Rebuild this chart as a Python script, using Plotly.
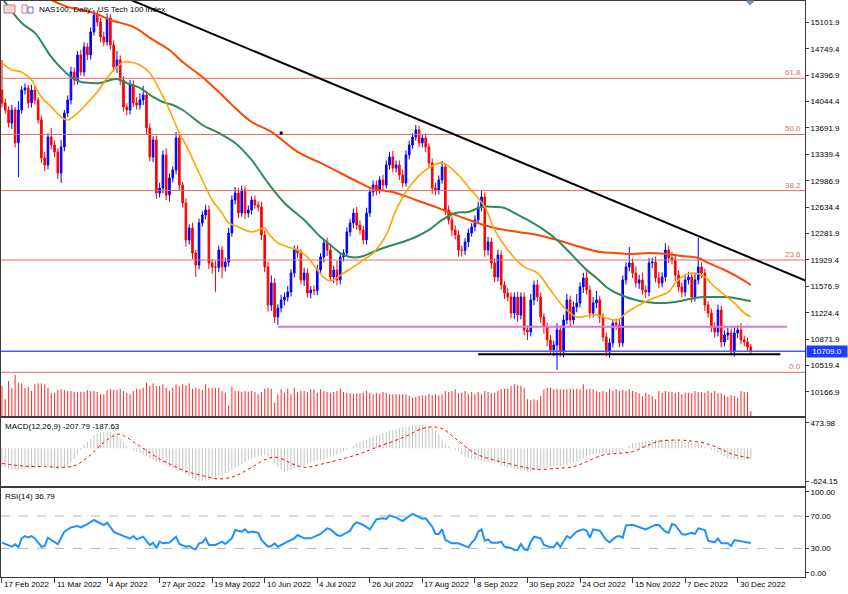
import plotly.graph_objects as go

# ---------------- data ----------------
tick_labels = ["17 Feb 2022", "11 Mar 2022", "4 Apr 2022", "27 Apr 2022", "19 May 2022",
               "10 Jun 2022", "4 Jul 2022", "26 Jul 2022", "17 Aug 2022", "8 Sep 2022",
               "30 Sep 2022", "24 Oct 2022", "15 Nov 2022", "7 Dec 2022", "30 Dec 2022"]
tick_bars = [0, 16, 32, 48, 64, 80, 96, 112, 128, 144, 160, 176, 192, 208, 224]

first_open = 14198
closes = [
    14025, 13931, 13758, 13931, 13491, 13931, 14198, 14225, 14025, 14198,
    14065, 13798, 13291, 13197, 13571, 13464, 13371, 13090, 13438, 13891,
    14065, 14439, 14332, 14666, 14439, 14773, 14666, 14973, 15200, 15106,
    14906, 14839, 15160, 14799, 14506, 14599, 14332, 13972, 13931, 14265,
    14025, 13998, 14065, 14132, 13691, 13304, 13531, 12823, 12890, 13331,
    12797, 13024, 13130, 13558, 12930, 12690, 12196, 12356, 12022, 11862,
    12423, 12530, 12596, 11889, 11836, 11830, 12062, 11836, 11902, 12289,
    12730, 12823, 12556, 12863, 12556, 12596, 12730, 12663, 12637, 12263,
    11836, 11328, 11622, 11168, 11288, 11395, 11435, 11502, 11755, 12062,
    12022, 11662, 11755, 11488, 11528, 11520, 11795, 11969, 12156, 12062,
    11702, 11795, 11662, 11969, 12022, 12303, 12423, 12556, 12396, 12329,
    12196, 12556, 12837, 12930, 12863, 12997, 12930, 13197, 13304, 13157,
    13197, 13064, 12957, 13331, 13464, 13571, 13664, 13491, 13558, 13438,
    13224, 12890, 12863, 12997, 13171, 12596, 12463, 12329, 12263, 12062,
    12055, 12169, 12289, 12370, 12463, 12637, 12770, 12062, 12169, 11889,
    11702, 11996, 11595, 11488, 11435, 11221, 11435, 11195, 11435, 10994,
    10968, 11395, 11595, 11435, 11168, 11035, 10861, 10727, 10794, 10994,
    10701, 11128, 11395, 11128, 11302, 11355, 11569, 11689, 11528, 11221,
    11355, 11395, 11168, 10901, 10701, 10821, 11088, 11061, 10821, 11662,
    11836, 11889, 11755, 11622, 11662, 11528, 11502, 11889, 11902, 11689,
    11622, 11702, 12062, 11956, 11929, 11729, 11569, 11502, 11662, 11702,
    11435, 11662, 11836, 11755, 11328, 11221, 11035, 10968, 11261, 10834,
    10928, 10954, 10701, 10954, 10994, 10861, 10834, 10768, 10709]

wick_up = [
    400, 60, 50, 70, 40, 120, 50, 60, 40, 70,
    50, 40, 60, 80, 50, 120, 60, 50, 90, 40,
    60, 70, 60, 50, 70, 60, 50, 60, 66, 60,
    50, 70, 60, 50, 60, 120, 60, 50, 50, 70,
    60, 80, 90, 120, 50, 60, 50, 60, 70, 60,
    90, 60, 50, 80, 60, 40, 60, 50, 70, 40,
    60, 50, 70, 60, 50, 80, 60, 50, 60, 70,
    60, 80, 70, 60, 50, 60, 50, 60, 50, 70,
    60, 70, 100, 60, 50, 70, 60, 80, 50, 60,
    60, 50, 70, 60, 50, 60, 70, 50, 60, 70,
    70, 60, 120, 60, 50, 60, 50, 60, 80, 60,
    60, 70, 60, 60, 60, 50, 70, 60, 70, 80,
    60, 60, 70, 60, 60, 50, 67, 60, 50, 60,
    50, 60, 70, 60, 80, 40, 60, 50, 60, 60,
    60, 50, 60, 50, 60, 70, 80, 60, 70, 60,
    60, 70, 60, 50, 70, 60, 60, 70, 60, 60,
    60, 80, 60, 70, 60, 50, 60, 70, 60, 90,
    60, 70, 80, 60, 70, 120, 60, 70, 90, 60,
    80, 120, 60, 50, 60, 60, 50, 60, 70, 60,
    60, 214, 60, 90, 70, 100, 60, 70, 60, 70,
    80, 60, 90, 60, 80, 70, 60, 60, 80, 70,
    60, 90, 387, 60, 60, 50, 60, 60, 70, 60,
    60, 70, 60, 90, 60, 90, 60, 60, 40]
wick_dn = [
    60, 50, 60, 80, 60, 455, 50, 60, 70, 60,
    60, 50, 70, 80, 60, 60, 70, 80, 133, 60,
    50, 60, 70, 60, 50, 60, 70, 60, 50, 60,
    70, 60, 50, 60, 60, 80, 70, 60, 70, 60,
    50, 60, 60, 70, 80, 60, 70, 80, 60, 70,
    70, 90, 60, 60, 80, 60, 90, 60, 80, 160,
    60, 50, 60, 80, 90, 330, 60, 150, 60, 60,
    50, 60, 70, 50, 80, 60, 60, 50, 60, 70,
    70, 90, 80, 80, 107, 60, 70, 60, 60, 60,
    70, 60, 80, 60, 70, 60, 60, 50, 70, 80,
    60, 80, 70, 60, 60, 50, 60, 70, 60, 60,
    60, 60, 50, 60, 70, 50, 60, 50, 60, 60,
    60, 70, 60, 50, 60, 50, 50, 60, 60, 70,
    60, 80, 70, 60, 50, 70, 60, 80, 60, 90,
    80, 60, 70, 50, 60, 50, 60, 90, 70, 80,
    70, 60, 70, 80, 60, 70, 80, 90, 60, 70,
    107, 60, 70, 60, 80, 90, 80, 60, 80, 334,
    60, 70, 60, 80, 60, 70, 60, 80, 60, 70,
    60, 70, 80, 60, 60, 80, 60, 70, 60, 50,
    60, 60, 70, 60, 80, 60, 80, 60, 70, 60,
    70, 60, 60, 70, 60, 80, 60, 70, 60, 60,
    70, 60, 60, 70, 80, 60, 70, 80, 60, 70,
    60, 70, 50, 60, 70, 60, 60, 50, 30]

volumes = [
    300, 167, 350, 283, 410, 333, 327, 283, 293, 250,
    317, 327, 327, 317, 283, 233, 233, 260, 267, 260,
    250, 250, 243, 243, 243, 243, 260, 250, 250, 240,
    217, 217, 260, 267, 260, 260, 273, 250, 233, 217,
    250, 273, 267, 283, 333, 300, 327, 300, 300, 317,
    283, 250, 283, 317, 300, 317, 307, 327, 273, 283,
    273, 260, 317, 283, 283, 283, 283, 250, 233, 107,
    293, 250, 250, 243, 250, 243, 250, 240, 217, 240,
    273, 283, 273, 133, 217, 267, 233, 273, 217, 283,
    240, 250, 250, 240, 267, 267, 233, 267, 250, 240,
    233, 240, 250, 273, 240, 233, 227, 223, 227, 227,
    233, 250, 233, 217, 233, 223, 240, 233, 217, 217,
    217, 217, 217, 217, 200, 183, 193, 200, 207, 200,
    217, 207, 217, 207, 217, 250, 240, 250, 267, 227,
    233, 250, 217, 240, 217, 240, 217, 250, 240, 227,
    233, 250, 267, 273, 273, 300, 317, 307, 300, 283,
    167, 157, 167, 157, 200, 267, 283, 283, 267, 273,
    267, 267, 267, 273, 267, 273,
    267, 317, 267, 273, 267, 250, 240, 250, 240, 273,
    250, 267, 250, 260, 250, 267, 250, 240, 227, 200,
    233, 217, 200, 167, 250, 233, 250, 240, 240, 233,
    240, 217, 233, 233, 227, 250, 240, 240, 233, 250,
    233, 250, 227, 227, 207, 193, 207, 200, 183, 250,
    240, 240, 50]

# moving averages
ma_fast_bars = [0, 3, 6, 9, 12, 15, 18, 20, 23, 26, 29, 32, 35, 37, 39, 42, 45, 48, 51, 54,
                56, 60, 64, 67, 69, 72, 76, 80, 81, 84, 87, 90, 93, 96, 99, 101, 104, 107, 110, 113,
                117, 120, 124, 129, 134, 138, 142, 147, 150, 154, 159, 163, 167, 171, 175, 178, 181, 184, 186, 188,
                190, 193, 197, 201, 203, 205, 208, 211, 214, 217, 220, 223, 226, 228]
ma_fast = [14559, 14466, 14439, 14332, 14105, 13972, 13838, 13798, 13891, 14025,
           14172, 14359, 14506, 14572, 14572, 14532, 14425, 14198, 13931, 13624,
           13464, 13090, 12730, 12556, 12423, 12370, 12303, 12356, 12289, 12156,
           12103, 12062, 11969, 11795, 11662, 11662, 11755, 11836, 11929, 12022,
           12263, 12597, 12904, 13130, 13224, 13104, 12904, 12637, 12330, 12062,
           11836, 11755, 11528, 11302, 11168, 11181, 11195, 11155, 11128, 11141,
           11221, 11302, 11395, 11462, 11502, 11622, 11729, 11755, 11702, 11569,
           11462, 11355, 11221, 11168]

ma_slow_bars = [0, 6, 10, 15, 18, 21, 24, 27, 30, 33, 35, 38, 42, 46, 49, 52, 55, 59, 61, 66,
                71, 76, 81, 86, 92, 97, 100, 103, 106, 109, 113, 117, 122, 126, 130, 134, 138, 142, 146, 150,
                153, 156, 160, 165, 169, 173, 175, 178, 181, 184, 187, 190, 193, 196, 199, 202, 205, 208, 211, 214,
                217, 220, 223, 226, 228]
ma_slow = [15427, 15093, 14960, 14639, 14492, 14372, 14305, 14292, 14292, 14332,
           14345, 14292, 14225, 14105, 14038, 13998, 13931, 13798, 13731, 13624,
           13491, 13264, 12957, 12690, 12463, 12236, 12129, 12022, 11969, 11969,
           12036, 12103, 12169, 12236, 12330, 12463, 12556, 12570, 12637, 12637,
           12623, 12556, 12463, 12330, 12196, 12022, 11929, 11795, 11689, 11569,
           11488, 11435, 11395, 11368, 11355, 11355, 11368, 11395, 11422, 11435,
           11435, 11435, 11422, 11395, 11382]

ma_long_bars = [9, 15, 20, 28, 33, 40, 46, 51, 55, 61, 66,
                71, 76, 82, 90, 97, 103, 109, 113, 117, 120,
                126, 132, 138, 144, 150, 157, 163, 169, 175, 182,
                187, 192, 197, 202, 207, 212, 215, 220, 224, 228]
ma_long = [15534, 15400, 15307, 15226, 15133, 15040, 14866, 14732, 14572, 14372, 14172,
           13958, 13771, 13638, 13371, 13224, 13090, 12957, 12877, 12850, 12823,
           12730, 12637, 12530, 12436, 12356, 12303, 12263, 12196, 12116, 12036,
           12022, 12009, 12022, 12009, 11982, 11956, 11889, 11795, 11702, 11595]

# drawn objects
fib_levels = [14354, 13604, 12855, 11928, 10429]
fib_names = ["61.8", "50.0", "38.2", "23.6", "0.0"]
trend_bars = [30, 245]
trend_prices = [15569, 11647]
support_bars = [145, 237]
support_price = 10669
resist_bars = [84, 239]
resist_price = 11038
last_price = 10709
anchor_bar, anchor_price = 85, 13624

price_ticks = [15101.9, 14749.4, 14396.9, 14044.4, 13691.9, 13339.4, 12986.9, 12634.4,
               12281.9, 11929.4, 11576.9, 11224.4, 10871.9, 10519.4, 10166.9]

# MACD(12,26,9)
macd_main = [
    -344, -360, -380, -400, -405, -405, -395, -380, -374, -370,
    -360, -340, -330, -330, -335, -350, -380, -400, -390, -370,
    -320, -250, -190, -110, -30, 60, 120, 180, 240, 280,
    300, 311, 315, 305, 280, 240, 180, 120, 40, 0,
    -50, -70, -90, -120, -140, -180, -210, -250, -270, -290,
    -320, -350, -375, -400, -420, -440, -480, -520, -560, -590,
    -605, -605, -600, -592, -570, -545, -520, -490, -460, -436,
    -400, -370, -340, -300, -260, -220, -190, -165, -150, -135,
    -125, -150, -200, -270, -343, -400, -436, -425, -405, -370,
    -343, -330, -312, -290, -260, -240, -225, -218, -200, -175,
    -156, -135, -115, -94, -60, -30, 0, 50, 93, 115,
    140, 160, 190, 218, 240, 260, 280, 300, 325, 343,
    360, 380, 395, 405, 420, 430, 436, 436, 436, 436,
    420, 390, 330, 250, 160, 93, 40, 0, -30, -62,
    -110, -156, -175, -195, -218, -230, -240, -250, -260, -270,
    -280, -290, -310, -330, -343, -360, -380, -393, -410, -425,
    -436, -425, -415, -405, -390, -370, -355, -345, -335, -330,
    -325, -318, -312, -290, -270, -250, -220, -190, -156, -130,
    -110, -94, -94, -94, -94, -94, -94, -90, -80, -40,
    0, 50, 93, 105, 115, 125, 135, 145, 155, 155,
    155, 155, 155, 155, 155, 155, 150, 140, 125, 115,
    105, 93, 93, 60, 30, 0, -30, -60, -94, -120,
    -150, -187, -200, -210, -218, -218, -215, -212, -207.79]
sig_bars = [0, 6, 13, 19, 21, 23, 25, 27, 29, 31,
            33, 35, 37, 40, 44, 48, 52, 56, 61, 66,
            70, 73, 77, 81, 84, 87, 90, 93, 97, 103,
            109, 115, 122, 128, 131, 134, 138, 144, 149, 154,
            159, 163, 169, 174, 178, 183, 188, 192, 196, 200,
            206, 210, 214, 218, 222, 228]
sig_vals = [-280, -330, -343, -355, -340, -300, -220, -120, 0, 110,
            200, 262, 240, 120, -40, -200, -320, -430, -510, -573,
            -540, -460, -320, -190, -170, -250, -330, -355, -300, -210,
            -100, 40, 200, 370, 400, 370, 187, -94, -206, -280,
            -355, -393, -374, -343, -250, -125, -94, -62, 40, 130,
            155, 135, 95, 10, -100, -187.63]

# RSI(14)
rsi_bars = [0, 3, 4, 5, 6, 7, 8, 9, 10, 12,
            13, 14, 15, 17, 19, 21, 23, 24, 26, 27,
            28, 30, 31, 32, 34, 35, 37, 39, 40, 41,
            43, 45, 46, 47, 48, 49, 51, 53, 54, 56,
            57, 58, 59, 60, 61, 62, 63, 65, 67, 68,
            70, 71, 73, 74, 75, 76, 78, 79, 81, 82,
            83, 84, 87, 89, 90, 92, 94, 97, 99, 100,
            102, 103, 105, 106, 107, 108, 110, 112, 114, 116,
            117, 118, 120, 122, 123, 125, 126, 128, 129, 131,
            132, 133, 134, 135, 136, 137, 139, 141, 142, 143,
            144, 145, 146, 147, 148, 149, 151, 152, 153, 155,
            156, 157, 158, 159, 160, 161, 162, 164, 165, 167,
            168, 169, 170, 172, 173, 175, 177, 178, 179, 180,
            182, 184, 185, 187, 188, 189, 190, 192, 194, 196,
            199, 200, 202, 203, 204, 205, 207, 208, 210, 211,
            212, 214, 215, 217, 218, 219, 221, 222, 223, 225,
            227, 228]
rsi_vals = [37.1, 32.1, 35.0, 31.3, 42.4, 45.3, 43.7, 45.3, 42.4, 32.1,
            33.0, 43.2, 40.4, 35.4, 50.7, 56.0, 57.6, 56.0, 60.1, 63.0,
            65.1, 61.0, 58.9, 61.8, 50.7, 48.6, 45.3, 42.0, 45.3, 41.2,
            44.5, 34.2, 37.1, 30.1, 38.3, 36.3, 37.1, 44.5, 35.4, 32.1,
            33.0, 30.1, 28.8, 36.3, 37.1, 42.4, 34.2, 34.2, 38.3, 35.4,
            42.4, 52.7, 50.7, 53.5, 49.4, 50.7, 49.4, 40.4, 32.1, 33.0,
            36.3, 32.1, 38.3, 42.4, 46.5, 42.4, 42.4, 47.8, 54.8, 53.5,
            46.5, 45.3, 49.4, 51.9, 58.9, 62.2, 58.9, 53.5, 65.9, 67.1,
            66.3, 70.8, 68.0, 63.8, 67.1, 72.5, 70.8, 66.7, 67.1, 56.8,
            47.8, 47.8, 53.5, 40.4, 38.3, 36.3, 36.3, 33.0, 31.3, 37.1,
            41.2, 50.7, 53.5, 39.5, 41.2, 37.1, 37.1, 38.3, 32.1, 30.5,
            28.0, 28.0, 35.4, 28.8, 28.0, 38.3, 44.5, 42.4, 34.2, 31.3,
            31.3, 37.1, 32.1, 45.3, 42.8, 50.7, 53.5, 51.9, 43.2, 53.5,
            51.9, 40.4, 37.5, 44.5, 45.3, 43.2, 58.5, 59.3, 56.8, 53.5,
            59.3, 58.9, 50.7, 49.4, 60.1, 58.9, 47.8, 47.0, 49.4, 47.8,
            54.8, 52.7, 39.5, 37.5, 42.4, 36.3, 36.3, 33.0, 40.4, 39.1,
            37.1, 36.79]
rsi_levels = [70, 30]

# ---------------- figure ----------------
n = len(closes)
bars = list(range(n))
opens = [first_open] + closes[:-1]
highs = [max(o, c) + w for o, c, w in zip(opens, closes, wick_up)]
lows = [min(o, c) - w for o, c, w in zip(opens, closes, wick_dn)]

X0, X1 = -0.3, 244.5
FONT = "Liberation Sans, Arial, sans-serif"
AXC = "#3c3c3c"

fig = go.Figure()

fig.add_trace(go.Bar(x=bars, y=volumes, xaxis="x", yaxis="y4", width=0.32,
                     marker=dict(color="#ff3030", line=dict(width=0)), showlegend=False))

for lv in fib_levels:
    fig.add_trace(go.Scatter(x=[X0, X1], y=[lv, lv], mode="lines", xaxis="x", yaxis="y",
                             line=dict(color="#e06c6c", width=1), showlegend=False))
fig.add_trace(go.Scatter(x=[X0, X1], y=[last_price, last_price], mode="lines",
                         line=dict(color="#4a5cff", width=1.5), showlegend=False))
fig.add_trace(go.Scatter(x=resist_bars, y=[resist_price] * 2, mode="lines",
                         line=dict(color="#e070e0", width=2), showlegend=False))

fig.add_trace(go.Scatter(x=ma_long_bars, y=ma_long, mode="lines", line=dict(color="#ff4500", width=2, shape="spline"), showlegend=False))
fig.add_trace(go.Scatter(x=ma_slow_bars, y=ma_slow, mode="lines", line=dict(color="#2e8b57", width=2, shape="spline"), showlegend=False))
fig.add_trace(go.Scatter(x=ma_fast_bars, y=ma_fast, mode="lines", line=dict(color="#ffa500", width=1.6, shape="spline"), showlegend=False))

fig.add_trace(go.Candlestick(x=bars, open=opens, high=highs, low=lows, close=closes,
                             increasing=dict(line=dict(color="#0000ff", width=1), fillcolor="#0000ff"),
                             decreasing=dict(line=dict(color="#ff0000", width=1), fillcolor="#ff0000"),
                             whiskerwidth=0, showlegend=False, hoverinfo="skip"))

fig.add_trace(go.Scatter(x=trend_bars, y=trend_prices, mode="lines", line=dict(color="#000000", width=2), showlegend=False))
fig.add_trace(go.Scatter(x=support_bars, y=[support_price] * 2, mode="lines", line=dict(color="#000000", width=2), showlegend=False))
fig.add_trace(go.Scatter(x=[anchor_bar], y=[anchor_price], mode="markers",
                         marker=dict(color="#000000", size=3, symbol="square"), showlegend=False))

# MACD pane
fig.add_trace(go.Bar(x=bars, y=macd_main, xaxis="x2", yaxis="y2", width=0.32,
                     marker=dict(color="#c4c4c4", line=dict(width=0)), showlegend=False))
fig.add_trace(go.Scatter(x=sig_bars, y=sig_vals, mode="lines", xaxis="x2", yaxis="y2",
                         line=dict(color="#ff0000", width=1, dash="dot", shape="spline"), showlegend=False))

# RSI pane
for lv in rsi_levels:
    fig.add_trace(go.Scatter(x=[X0, X1], y=[lv, lv], mode="lines", xaxis="x3", yaxis="y3",
                             line=dict(color="#b4b4b4", width=1, dash="dash"), showlegend=False))
fig.add_trace(go.Scatter(x=rsi_bars, y=rsi_vals, mode="lines", xaxis="x3", yaxis="y3",
                         line=dict(color="#1e90ff", width=2), showlegend=False))

def px_y(y):
    return (577 - y) / 576.0

def px_x(x):
    return (x - 1) / 804.0

common_x = dict(range=[X0, X1], showgrid=False, zeroline=False, showline=True, mirror=True,
                linecolor=AXC, linewidth=1, fixedrange=True)
axis_font = dict(family=FONT, size=8, color="#000000")
common_y = dict(showgrid=False, zeroline=False, showline=True, mirror=True, linecolor=AXC,
                linewidth=1, side="right", ticks="outside", ticklen=3, tickcolor=AXC,
                tickfont=axis_font, fixedrange=True)

fig.update_layout(
    width=848, height=594,
    margin=dict(l=1, r=43, t=1, b=17),
    paper_bgcolor="white", plot_bgcolor="white",
    barmode="overlay", hovermode=False, showlegend=False,
    xaxis=dict(common_x, domain=[0, 1], anchor="y", showticklabels=False, rangeslider=dict(visible=False)),
    xaxis2=dict(common_x, domain=[0, 1], anchor="y2", showticklabels=False, matches="x"),
    xaxis3=dict(common_x, domain=[0, 1], anchor="y3", showticklabels=False, matches="x",
                ticks="outside", ticklen=5, tickcolor=AXC, tickvals=tick_bars),
    yaxis=dict(common_y, domain=[px_y(416), 1], anchor="x", range=[9846, 15386],
               tickvals=price_ticks, ticktext=["%.1f" % v for v in price_ticks]),
    yaxis4=dict(overlaying="y", anchor="x", range=[0, 4150], visible=False, fixedrange=True),
    yaxis2=dict(common_y, domain=[px_y(486), px_y(418)], anchor="x2", range=[-705, 567],
                tickvals=[473.98, -624.15], ticktext=["473.98", "-624.15"]),
    yaxis3=dict(common_y, domain=[0, px_y(488)], anchor="x3", range=[-5.3, 104.6],
                tickvals=[100, 70, 30, 0], ticktext=["100.00", "70.00", "30.00", "0.00"]),
)

ann = []
ann.append(dict(xref="paper", yref="paper", x=px_x(37), y=px_y(9.5), xanchor="left", yanchor="middle",
                text="NAS100, Daily: \u00a0US Tech 100 Index", showarrow=False,
                font=dict(family=FONT, size=8, color="#000000")))
ann.append(dict(xref="paper", yref="paper", x=px_x(3), y=px_y(426.5), xanchor="left", yanchor="middle",
                text="MACD(12,26,9) -207.79 -187.63", showarrow=False,
                font=dict(family=FONT, size=8, color="#000000")))
ann.append(dict(xref="paper", yref="paper", x=px_x(3), y=px_y(496), xanchor="left", yanchor="middle",
                text="RSI(14) 36.79", showarrow=False, font=dict(family=FONT, size=8, color="#000000")))
for b, t in zip(tick_bars, tick_labels):
    ann.append(dict(xref="x3", yref="paper", x=b, y=px_y(584.5), xanchor="left", yanchor="middle",
                    xshift=0, text=t, showarrow=False, font=dict(family=FONT, size=8, color="#000000")))
for lv, name in zip(fib_levels, fib_names):
    ann.append(dict(xref="x", yref="y", x=X1, y=lv, xanchor="right", yanchor="bottom",
                    xshift=-2, yshift=-1, text=name, showarrow=False,
                    font=dict(family=FONT, size=8, color="#e06c6c")))
ann.append(dict(xref="paper", yref="y", x=1, y=last_price, xanchor="left", yanchor="middle", xshift=1,
                text="%.1f" % last_price, showarrow=False, bgcolor="#1f3cff", borderpad=1, width=38,
                font=dict(family=FONT, size=8, color="#ffffff")))
fig.update_layout(annotations=ann)

shapes = [
    dict(type="rect", xref="paper", yref="paper", x0=px_x(4), x1=px_x(15), y0=px_y(13), y1=px_y(5),
         line=dict(color="#e06c6c", width=1), fillcolor="#f6d6d6"),
    dict(type="rect", xref="paper", yref="paper", x0=px_x(22), x1=px_x(27), y0=px_y(13), y1=px_y(5),
         line=dict(color="#e06c6c", width=1), fillcolor="#ffffff"),
    dict(type="rect", xref="paper", yref="paper", x0=px_x(28), x1=px_x(33), y0=px_y(13), y1=px_y(7),
         line=dict(color="#4a7ad8", width=1), fillcolor="#ffffff"),
    dict(type="path", xref="paper", yref="paper",
         path="M %f,%f L %f,%f L %f,%f Z" % (px_x(746), px_y(1), px_x(754), px_y(1), px_x(750), px_y(5)),
         line=dict(color="#7f93b5", width=1), fillcolor="#7f93b5"),
]
fig.update_layout(shapes=shapes)

fig.write_html("out.html", config={"displayModeBar": False, "staticPlot": True})
